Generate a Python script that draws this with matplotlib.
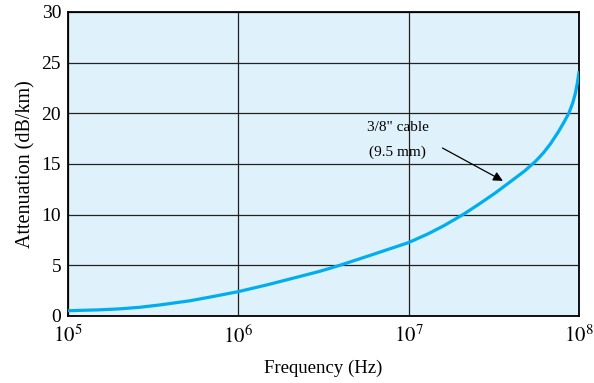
import matplotlib
matplotlib.use("Agg")
import matplotlib.pyplot as plt

# attenuation of 3/8" coax cable
freq_hz = [1e5, 1.5e5, 2e5, 2.65e5, 3.5e5, 5.2e5, 7e5, 1e6, 1.5e6, 2.3e6,
           3e6, 3.95e6, 6e6, 1e7, 1.3e7, 1.61e7, 2.11e7, 2.6e7, 3.24e7,
           4e7, 4.8e7, 5.56e7, 6.2e7, 6.82e7, 7.6e7, 8.2e7, 8.73e7,
           9.2e7, 9.55e7, 9.8e7, 1e8]
atten_db_km = [0.52, 0.6, 0.7, 0.86, 1.1, 1.5, 1.9, 2.4, 3.1, 3.9,
               4.4, 5.0, 6.0, 7.24, 8.1, 8.9, 10.05, 11.05, 12.15,
               13.3, 14.3, 15.25, 16.1, 17.0, 18.2, 19.15, 20.0,
               21.0, 22.0, 23.0, 24.0]

x_ticks = [1e5, 1e6, 1e7, 1e8]
x_labels = [r"$10^5$", r"$10^6$", r"$10^7$", r"$10^8$"]
y_ticks = [0, 5, 10, 15, 20, 25, 30]

plt.rcParams["font.family"] = ["Liberation Serif", "DejaVu Serif"]
plt.rcParams["mathtext.fontset"] = "stix"

fig = plt.figure(figsize=(5.94, 3.83), dpi=100)
ax = fig.add_axes([0.1145, 0.175, 0.860, 0.794])
ax.set_facecolor("#dff1fb")

ax.plot(freq_hz, atten_db_km, color="#00aeef", linewidth=2.3, zorder=3)

ax.set_xscale("log")
ax.set_xlim(1e5, 1e8)
ax.set_ylim(0, 30)
ax.set_xticks(x_ticks)
ax.set_xticklabels(x_labels)
ax.minorticks_off()
ax.set_yticks(y_ticks)
ax.tick_params(length=0, labelsize=14, pad=5)
ax.tick_params(axis="x", pad=7, labelsize=15)
ax.grid(True, color="#222222", linewidth=0.9)
for s in ax.spines.values():
    s.set_linewidth(1.3)

ax.set_xlabel("Frequency (Hz)", fontsize=13.5, labelpad=8)
ax.set_ylabel("Attenuation (dB/km)", fontsize=14.5, labelpad=4)

ax.text(8.65e6, 18.55, "3/8\" cable", fontsize=11, ha="center", va="center")
ax.text(8.65e6, 16.2, "(9.5 mm)", fontsize=11, ha="center", va="center")
ax.annotate("", xy=(3.7e7, 13.2), xytext=(1.53e7, 16.7),
            arrowprops=dict(arrowstyle="-|>", color="black", lw=0.9,
                            mutation_scale=14))

fig.savefig("out.png", dpi=100)
